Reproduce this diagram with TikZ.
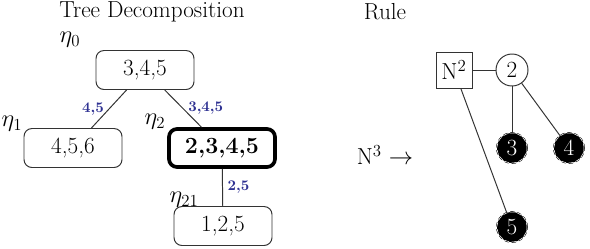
\documentclass[tikz,border=0pt]{standalone}
\usepackage{amsmath,amssymb}
\usepackage{xcolor}
\usepackage{tikz}
\usetikzlibrary{positioning,calc}
\definecolor{sepblue}{HTML}{2E3192}
\definecolor{edgeink}{HTML}{333333}

\begin{document}
\begin{tikzpicture}[font=\fontsize{16.5}{19}\selectfont,
  bag/.style={draw=edgeink, line width=0.7pt, rounded corners=2mm, minimum width=2.45cm,
              minimum height=0.975cm, inner sep=2pt},
  focus/.style={bag, draw=black, line width=2.6pt, minimum width=2.65cm, minimum height=0.95cm, font=\fontsize{16.5}{19}\selectfont\bfseries},
  sep/.style={font=\fontsize{10.5}{12}\selectfont\bfseries, text=sepblue},
  tedge/.style={draw=edgeink, line width=0.7pt},
  nonterm/.style={draw=edgeink, line width=0.7pt, minimum size=0.9cm, inner sep=0pt},
  ext/.style={circle, draw=edgeink, line width=0.7pt, minimum size=0.8cm, inner sep=0pt},
  term/.style={circle, fill=black, text=white, minimum size=0.75cm, inner sep=0pt,
               preaction={draw=black, line width=1.2pt},
               draw=white, densely dashed, line width=0.4pt}]
\useasboundingbox (0,0) rectangle (14.75,-6.2);
% tree decomposition
\node (ttitle) at (3.8,-0.3) {Tree Decomposition};
\node[bag]   (root) at (3.625,-1.75) {3,4,5};
\node[bag]   (eta1) at (1.825,-3.7)  {4,5,6};
\node[focus] (eta2) at (5.55,-3.7)   {2,3,4,5};
\node[bag]   (eta21) at (5.575,-5.65) {1,2,5};
\node (lroot) at (1.75,-1.0)  {$\eta_0$};
\node (leta1) at (0.3,-3.1)   {$\eta_1$};
\node (leta2) at (3.875,-3.05) {$\eta_2$};
\node (leta21) at (4.6,-5.0)  {$\eta_{21}$};
\draw[tedge] (root) -- node[sep, midway, left] {4,5} (eta1);
\draw[tedge] (root) -- node[sep, midway, right] {3,4,5} (eta2);
\draw[tedge] (eta2) -- node[sep, midway, right] {2,5} (eta21);
% rule
\node (rtitle) at (9.625,-0.3) {Rule};
\node (lhs) at (9.625,-3.875) {N$^3$ $\rightarrow$};
\node[nonterm] (n2) at (11.35,-1.75) {N$^2$};
\node[ext]  (v2) at (12.8,-1.75)   {2};
\node[term] (v3) at (12.8,-3.7)    {3};
\node[term] (v4) at (14.225,-3.7)  {4};
\node[term] (v5) at (12.8,-5.675)  {5};
\draw[tedge] (n2) -- (v2);
\draw[tedge] (v2) -- (v3);
\draw[tedge] (v2) -- (v4);
\draw[tedge] (n2) -- (v5);
\end{tikzpicture}
\end{document}
